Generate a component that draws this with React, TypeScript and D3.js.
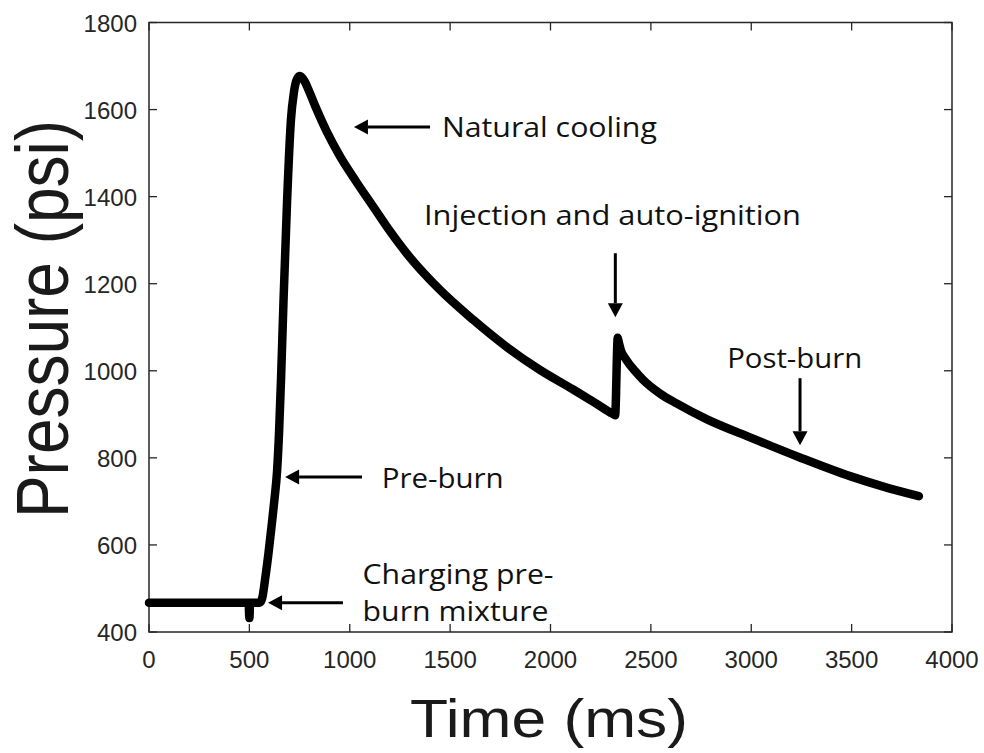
import React from "react";
import * as d3 from "d3";

// ---- data ----
const timeMs = [0, 100, 200, 300, 400, 496, 500, 504, 520, 540, 553, 565, 578, 595, 611, 625, 638, 648, 658, 670, 688, 707, 722, 737, 752, 775, 795, 830, 885, 951, 1030, 1117, 1200, 1283, 1449, 1615, 1781, 1947, 2113, 2220, 2310, 2322, 2335, 2339, 2350, 2378, 2420, 2462, 2545, 2628, 2777, 3000, 3242, 3492, 3658, 3835];
const pressurePsi = [467, 467, 467, 467, 467, 467, 432, 467, 467, 467, 468, 480, 520, 580, 645, 705, 770, 860, 985, 1160, 1392, 1576, 1640, 1670, 1677, 1665, 1645, 1606, 1550, 1493, 1436, 1377, 1321, 1270, 1186, 1117, 1055, 1002, 957, 927, 901, 898, 1076, 1068, 1048, 1025, 1000, 979, 948, 925, 889, 846, 801, 758, 734, 712];

const xTicks = [0, 500, 1000, 1500, 2000, 2500, 3000, 3500, 4000];
const yTicks = [400, 600, 800, 1000, 1200, 1400, 1600, 1800];

// annotations: label lines, text anchor (data coords), arrow tail & tip (data coords)
const annotationLabels = [["Natural cooling"], ["Injection and auto-ignition"], ["Post-burn"], ["Pre-burn"], ["Charging pre-", "burn mixture"]];
const annotationTextPos = [[1459, 1537], [1370, 1335], [2880, 1006], [1159, 731], [1064, 510]];
const annotationTextWidth = [[215], [377], [135], [122], [191, 186]];
const arrowTail = [[1400, 1560], [2323, 1270], [3243, 983], [1061, 756], [966, 467]];
const arrowTip = [[1021, 1560], [2323, 1123], [3243, 829], [678, 756], [593, 467]];

const W = 984;
const H = 753;
const M = { left: 149, right: 952, top: 22.5, bottom: 632 };

export default function App() {
  const x = d3.scaleLinear().domain([0, 4000]).range([M.left, M.right]);
  const y = d3.scaleLinear().domain([400, 1800]).range([M.bottom, M.top]);
  const pts = timeMs.map((t, i) => [t, pressurePsi[i]] as [number, number]);
  const line = d3
    .line<[number, number]>()
    .x((d) => x(d[0]))
    .y((d) => y(d[1]))
    .curve(d3.curveMonotoneX);
  const axisColor = "#262626";
  const tickLen = 8;
  const tickFont = "'Liberation Sans', Arial, sans-serif";
  const annFont = "'Open Sans', 'Noto Sans', sans-serif";

  return (
    <svg width={W} height={H} style={{ position: "absolute", left: 0, top: 0, background: "#fff" }}>
      <rect x={0} y={0} width={W} height={H} fill="#fff" />
      {/* ticks */}
      {xTicks.map((t) => (
        <g key={"xt" + t}>
          <line x1={x(t)} x2={x(t)} y1={M.bottom} y2={M.bottom - tickLen} stroke={axisColor} strokeWidth={1.3} />
          <line x1={x(t)} x2={x(t)} y1={M.top} y2={M.top + tickLen} stroke={axisColor} strokeWidth={1.3} />
          <text x={x(t)} y={668} textAnchor="middle" fontFamily={tickFont} fontSize={24} fill={axisColor}>
            {t}
          </text>
        </g>
      ))}
      {yTicks.map((t) => (
        <g key={"yt" + t}>
          <line x1={M.left} x2={M.left + tickLen} y1={y(t)} y2={y(t)} stroke={axisColor} strokeWidth={1.3} />
          <line x1={M.right} x2={M.right - tickLen} y1={y(t)} y2={y(t)} stroke={axisColor} strokeWidth={1.3} />
          <text x={137} y={y(t) + 9} textAnchor="end" fontFamily={tickFont} fontSize={24} fill={axisColor}>
            {t}
          </text>
        </g>
      ))}
      <rect x={M.left} y={M.top} width={M.right - M.left} height={M.bottom - M.top} fill="none" stroke={axisColor} strokeWidth={1.5} />

      {/* data line */}
      <path d={line(pts) || ""} fill="none" stroke="#000" strokeWidth={8.5} strokeLinejoin="round" strokeLinecap="round" />

      {/* annotations */}
      {annotationLabels.map((lines, i) => {
        const tx = x(annotationTextPos[i][0]);
        const ty = y(annotationTextPos[i][1]);
        const x1 = x(arrowTail[i][0]);
        const y1 = y(arrowTail[i][1]);
        const x2 = x(arrowTip[i][0]);
        const y2 = y(arrowTip[i][1]);
        const ang = Math.atan2(y2 - y1, x2 - x1);
        const hl = 14;
        const hw = 7.5;
        const bx = x2 - hl * Math.cos(ang);
        const by = y2 - hl * Math.sin(ang);
        const head = [
          [x2, y2],
          [bx + hw * Math.sin(ang), by - hw * Math.cos(ang)],
          [bx - hw * Math.sin(ang), by + hw * Math.cos(ang)],
        ];
        return (
          <g key={"ann" + i}>
            <line x1={x1} y1={y1} x2={bx} y2={by} stroke="#000" strokeWidth={3} />
            <polygon points={head.map((p) => p.join(",")).join(" ")} fill="#000" />
            {lines.map((s, j) => (
              <text
                key={j}
                x={tx}
                y={ty + j * 37}
                fontFamily={annFont}
                fontSize={27}
                fill="#111"
                textLength={annotationTextWidth[i][j]}
                lengthAdjust="spacingAndGlyphs"
              >
                {s}
              </text>
            ))}
          </g>
        );
      })}

      {/* axis titles */}
      <text
        x={549}
        y={737}
        textAnchor="middle"
        fontFamily={tickFont}
        fontSize={54.5}
        fill="#1a1a1a"
        textLength={278}
        lengthAdjust="spacingAndGlyphs"
      >
        Time (ms)
      </text>
      <text
        transform={`translate(68, 319) scale(1.15, 1) rotate(-90)`}
        textAnchor="middle"
        fontFamily={tickFont}
        fontSize={64}
        fill="#1a1a1a"
      >
        Pressure (psi)
      </text>
    </svg>
  );
}
